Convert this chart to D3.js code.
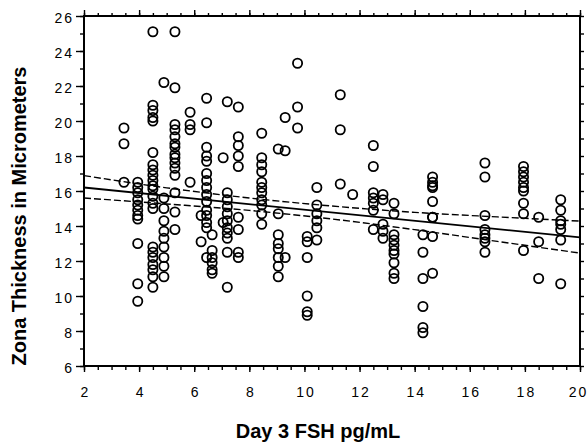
<!DOCTYPE html>
<html>
<head>
<meta charset="utf-8">
<script src="https://cdn.jsdelivr.net/npm/d3@7"></script>
<style>
    body { margin: 0; background: #fff; }
    .tick-label { font-family: "Liberation Sans", Arial, sans-serif; font-size: 14px; letter-spacing: 2px; fill: #000; }
    .axis-title { font-family: "Liberation Sans", Arial, sans-serif; font-size: 20px; font-weight: bold; fill: #000; }
</style>
</head>
<body>
<div id="chart"></div>
<script>
// FSH values (x) of each vertical group of points, and the zona readings in it
const fshColumns = [3.45, 3.95, 4.5, 4.9, 5.3, 5.85, 6.45, 6.25, 6.65, 7.05, 7.2, 7.6,
    8.45, 9.05, 9.3, 9.75, 10.1, 10.45, 11.3, 11.75, 12.5, 12.85, 13.25,
    14.3, 14.65, 16.55, 17.95, 18.5, 19.3];

const zonaByColumn = [
    [19.6, 18.7, 16.5],
    [16.5, 16.2, 15.9, 15.5, 15.2, 14.9, 14.6, 14.4, 13.0, 10.7, 9.7],
    [25.1, 20.9, 20.6, 20.2, 20.0, 18.2, 17.5, 17.2, 16.9, 16.6, 16.3, 16.1, 15.7, 15.3, 15.0, 12.8, 12.5, 12.2, 11.8, 11.5, 11.1, 10.5],
    [22.2, 15.6, 15.0, 14.3, 13.7, 13.3, 12.8, 12.2, 11.7, 11.1],
    [25.1, 21.9, 19.8, 19.5, 19.1, 18.7, 18.5, 18.1, 17.9, 17.6, 17.3, 16.9, 15.9, 14.8, 13.8],
    [20.5, 19.8, 19.5, 16.5],
    [21.3, 19.9, 18.5, 18.0, 17.7, 17.0, 16.6, 16.2, 15.8, 15.4, 14.9, 14.6, 14.2, 13.9, 12.2],
    [14.6, 13.1],
    [13.5, 12.6, 12.2, 11.9, 11.5, 11.3],
    [17.9, 14.2],
    [21.1, 15.9, 15.5, 15.1, 14.7, 14.3, 13.9, 13.6, 13.3, 12.5, 10.5],
    [20.8, 19.1, 18.6, 18.0, 17.4, 14.5, 13.8, 12.5, 12.2],
    [19.3, 17.9, 17.5, 17.1, 16.5, 16.2, 15.9, 15.5, 15.2, 14.7, 14.1],
    [18.4, 14.7, 13.5, 13.0, 12.7, 12.2, 11.7, 11.1],
    [20.2, 18.3, 12.2],
    [23.3, 20.8, 19.6],
    [13.4, 13.1, 12.2, 10.0, 9.1, 8.9],
    [16.2, 15.2, 14.7, 14.3, 13.9, 13.2],
    [21.5, 19.5, 16.4],
    [15.8],
    [18.6, 17.4, 15.9, 15.6, 15.3, 14.9, 13.8],
    [15.8, 15.5, 14.1, 13.7, 13.3],
    [15.3, 14.7, 13.5, 13.2, 12.9, 12.6, 12.4, 11.9, 11.3, 11.0],
    [13.5, 12.5, 11.0, 9.4, 8.2, 7.9],
    [16.8, 16.5, 16.3, 16.2, 15.4, 14.5, 14.5, 13.4, 11.3],
    [17.6, 16.8, 14.6, 13.8, 13.5, 13.3, 13.1, 12.5],
    [17.4, 17.1, 16.8, 16.5, 16.2, 16.0, 15.3, 14.7, 12.6],
    [14.5, 13.1, 11.0],
    [15.5, 14.9, 14.3, 14.1, 13.8, 13.2, 10.7]
];

const xTicks = [2, 4, 6, 8, 10, 12, 14, 16, 18, 20];
const yTicks = [6, 8, 10, 12, 14, 16, 18, 20, 22, 24, 26];

// regression line and its confidence band
const fitX = [2, 20];
const fitY = [16.2, 13.35];
const bandX = [2, 5, 8, 11, 14, 17, 20];
const bandUpper = [16.88, 16.18, 15.6, 15.14, 14.78, 14.52, 14.28];
const bandLower = [15.6, 15.26, 14.89, 14.4, 13.79, 13.12, 12.45];

const width = 588;
const height = 444;
const margin = {top: 16, right: 8, bottom: 78, left: 84};
const innerwidth = width - margin.left - margin.right;
const innerheight = height - margin.top - margin.bottom;

const data = [];
fshColumns.forEach((fsh, i) => {
    zonaByColumn[i].forEach(z => data.push({fsh: fsh, zona: z}));
});

const svg = d3.select("#chart")
    .append("svg")
    .attr("width", width)
    .attr("height", height);

const innerChart = svg
    .append("g")
    .attr("transform", `translate(${margin.left},${margin.top})`);

const xScale = d3.scaleLinear()
    .domain([2, 20])
    .range([0, innerwidth]);

const yScale = d3.scaleLinear()
    .domain([6, 26])
    .range([innerheight, 0]);

const minorX = d3.range(2, 20.01, 0.5);
const minorY = d3.range(6, 26.01, 1);

// axes: minor ticks first, then major ticks with labels
const addAxis = (axis, transform) => {
    const g = innerChart.append("g")
        .attr("transform", transform)
        .call(axis);
    g.select(".domain").remove();
    g.selectAll(".tick line").attr("stroke", "#000").attr("stroke-width", 1.4);
    return g;
};

addAxis(d3.axisBottom(xScale).tickValues(minorX).tickSize(4).tickFormat(""), `translate(0,${innerheight})`);
const bottomAxis = addAxis(d3.axisBottom(xScale).tickValues(xTicks).tickSize(6).tickPadding(15), `translate(0,${innerheight})`);
bottomAxis.selectAll("text")
    .attr("class", "tick-label")
    .attr("dx", d => d === 20 ? "-2px" : "1px");

addAxis(d3.axisTop(xScale).tickValues(minorX).tickSize(3).tickFormat(""), "translate(0,0)");
addAxis(d3.axisTop(xScale).tickValues(xTicks).tickSize(6).tickFormat(""), "translate(0,0)");

addAxis(d3.axisLeft(yScale).tickValues(minorY).tickSize(4).tickFormat(""), "translate(0,0)");
const leftAxis = addAxis(d3.axisLeft(yScale).tickValues(yTicks).tickSize(8).tickPadding(2), "translate(0,0)");
leftAxis.selectAll("text").attr("class", "tick-label").attr("dy", "0.45em");

addAxis(d3.axisRight(yScale).tickValues(minorY).tickSize(4).tickFormat(""), `translate(${innerwidth},0)`);

// frame
innerChart.append("rect")
    .attr("width", innerwidth)
    .attr("height", innerheight)
    .attr("fill", "none")
    .attr("stroke", "#000")
    .attr("stroke-width", 2);

// points
innerChart
    .selectAll("circle")
    .data(data)
    .join("circle")
    .attr("cx", d => xScale(d.fsh))
    .attr("cy", d => yScale(d.zona))
    .attr("r", 4.6)
    .attr("fill", "none")
    .attr("stroke", "#000")
    .attr("stroke-width", 1.8);

// regression line
const fitLine = d3.line()
    .x(d => xScale(d[0]))
    .y(d => yScale(d[1]));

innerChart.append("path")
    .attr("d", fitLine(fitX.map((x, i) => [x, fitY[i]])))
    .attr("fill", "none")
    .attr("stroke", "#000")
    .attr("stroke-width", 1.8);

const bandLine = d3.line()
    .x(d => xScale(d[0]))
    .y(d => yScale(d[1]))
    .curve(d3.curveMonotoneX);

[bandUpper, bandLower].forEach(band => {
    innerChart.append("path")
        .attr("d", bandLine(bandX.map((x, i) => [x, band[i]])))
        .attr("fill", "none")
        .attr("stroke", "#000")
        .attr("stroke-width", 1.4)
        .attr("stroke-dasharray", "7,3");
});

// axis titles
svg.append("text")
    .text("Day 3 FSH pg/mL")
    .attr("text-anchor", "middle")
    .attr("x", 318)
    .attr("y", 438)
    .attr("class", "axis-title");

svg.append("text")
    .text("Zona Thickness in Micrometers")
    .attr("text-anchor", "middle")
    .attr("transform", "translate(26,216) rotate(-90)")
    .attr("class", "axis-title");
</script>
</body>
</html>
